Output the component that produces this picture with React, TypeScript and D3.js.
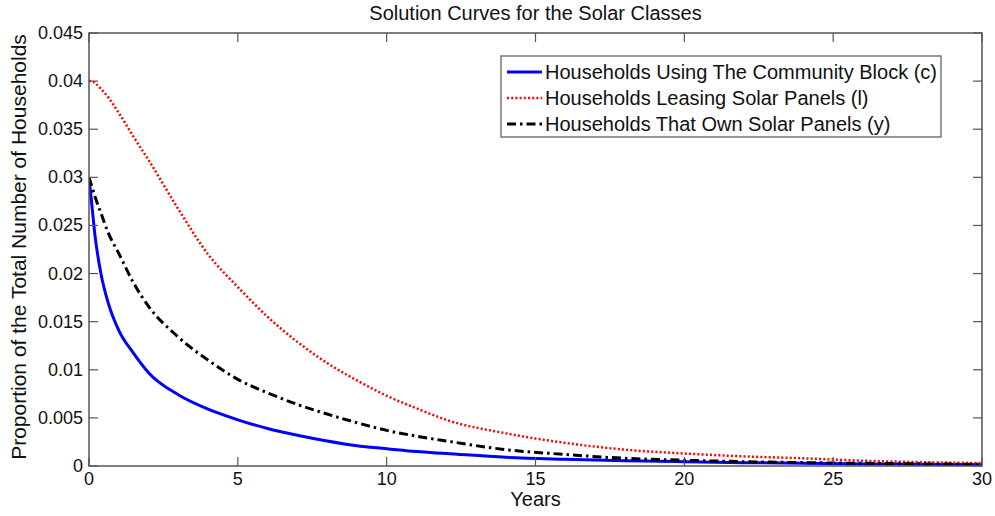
import React from "react";
import * as d3 from "d3";

const years = [0, 0.1, 0.2, 0.4, 0.65, 1, 1.5, 2, 3, 4, 5, 6, 7, 8, 9, 10, 11, 12, 14, 16, 18, 20, 22, 24, 26, 28, 30];
const community = [0.03, 0.027, 0.024, 0.02, 0.0169, 0.0141, 0.0117, 0.0097, 0.0074, 0.0059, 0.0048, 0.0039, 0.0032, 0.0026, 0.0021, 0.0018, 0.0015, 0.0013, 0.0009, 0.0007, 0.00055, 0.00045, 0.00035, 0.00028, 0.00022, 0.00018, 0.00015];
const leasing = [0.04, 0.04, 0.0398, 0.0392, 0.0383, 0.0367, 0.0342, 0.0318, 0.0267, 0.022, 0.0186, 0.0155, 0.0129, 0.0107, 0.0089, 0.0073, 0.006, 0.0048, 0.0034, 0.0024, 0.0017, 0.0013, 0.001, 0.0008, 0.00055, 0.0004, 0.0003];
const owning = [0.03, 0.029, 0.028, 0.0263, 0.0242, 0.0221, 0.019, 0.0166, 0.0134, 0.011, 0.009, 0.0076, 0.0064, 0.0054, 0.0045, 0.0037, 0.0031, 0.0026, 0.0017, 0.0012, 0.0008, 0.0006, 0.00045, 0.00035, 0.00028, 0.00022, 0.00018];

const xTicks = [0, 5, 10, 15, 20, 25, 30];
const yTicks = [0, 0.005, 0.01, 0.015, 0.02, 0.025, 0.03, 0.035, 0.04, 0.045];
const yTickLabels = ["0", "0.005", "0.01", "0.015", "0.02", "0.025", "0.03", "0.035", "0.04", "0.045"];

const seriesNames = [
  "Households Using The Community Block (c)",
  "Households Leasing Solar Panels (l)",
  "Households That Own Solar Panels (y)",
];

const W = 995, H = 516;
const M = { left: 89, right: 982, top: 33, bottom: 466 };
const FONT = "'Liberation Sans', Arial, sans-serif";
const AX = "#555";

export default function App() {
  const x = d3.scaleLinear().domain([0, 30]).range([M.left, M.right]);
  const y = d3.scaleLinear().domain([0, 0.045]).range([M.bottom, M.top]);
  const line = (vals: number[]) =>
    d3.line<number>().x((_, i) => x(years[i])).y((v) => y(v)).curve(d3.curveMonotoneX)(vals) || "";

  const styles = [
    { data: community, stroke: "#0000ff", width: 3, dash: undefined as string | undefined },
    { data: leasing, stroke: "#ff0000", width: 2.5, dash: "2,2.2" },
    { data: owning, stroke: "#000000", width: 3, dash: "9,4,2.5,4" },
  ];

  const tick = 9;
  const legY = [72, 98, 124];

  return (
    <svg width={W} height={H} style={{ position: "absolute", left: 0, top: 0, background: "#fff" }}>
      <rect x={0} y={0} width={W} height={H} fill="#fff" />
      <defs>
        <clipPath id="plot">
          <rect x={M.left} y={M.top} width={M.right - M.left} height={M.bottom - M.top} />
        </clipPath>
      </defs>
      <g clipPath="url(#plot)">
        {styles.map((s, i) => (
          <path key={i} d={line(s.data)} fill="none" stroke={s.stroke} strokeWidth={s.width} strokeDasharray={s.dash} strokeLinejoin="round" />
        ))}
      </g>
      <rect x={M.left} y={M.top} width={M.right - M.left} height={M.bottom - M.top} fill="none" stroke={AX} strokeWidth={1.5} />
      {xTicks.map((t) => (
        <g key={"x" + t}>
          <line x1={x(t)} x2={x(t)} y1={M.bottom} y2={M.bottom - tick} stroke={AX} strokeWidth={1.2} />
          <line x1={x(t)} x2={x(t)} y1={M.top} y2={M.top + tick} stroke={AX} strokeWidth={1.2} />
          <text x={x(t)} y={M.bottom + 19} textAnchor="middle" fontFamily={FONT} fontSize={18} fill="#111">{t}</text>
        </g>
      ))}
      {yTicks.map((t, i) => (
        <g key={"y" + i}>
          <line x1={M.left} x2={M.left + tick} y1={y(t)} y2={y(t)} stroke={AX} strokeWidth={1.2} />
          <line x1={M.right} x2={M.right - tick} y1={y(t)} y2={y(t)} stroke={AX} strokeWidth={1.2} />
          <text x={M.left - 6} y={y(t) + 6} textAnchor="end" fontFamily={FONT} fontSize={18} fill="#111">{yTickLabels[i]}</text>
        </g>
      ))}
      <text x={(M.left + M.right) / 2} y={20} textAnchor="middle" fontFamily={FONT} fontSize={20} fill="#111">Solution Curves for the Solar Classes</text>
      <text x={(M.left + M.right) / 2} y={506} textAnchor="middle" fontFamily={FONT} fontSize={20} fill="#111">Years</text>
      <text transform={`translate(26,247) rotate(-90)`} textAnchor="middle" fontFamily={FONT} fontSize={21} fill="#111">Proportion of the Total Number of Households</text>
      <rect x={501} y={56} width={440} height={81} fill="#fff" stroke={AX} strokeWidth={1.2} />
      {styles.map((s, i) => (
        <g key={"l" + i}>
          <line x1={507} x2={542} y1={legY[i]} y2={legY[i]} stroke={s.stroke} strokeWidth={s.width} strokeDasharray={s.dash} />
          <text x={545} y={legY[i] + 7} fontFamily={FONT} fontSize={20} fill="#111">{seriesNames[i]}</text>
        </g>
      ))}
    </svg>
  );
}
